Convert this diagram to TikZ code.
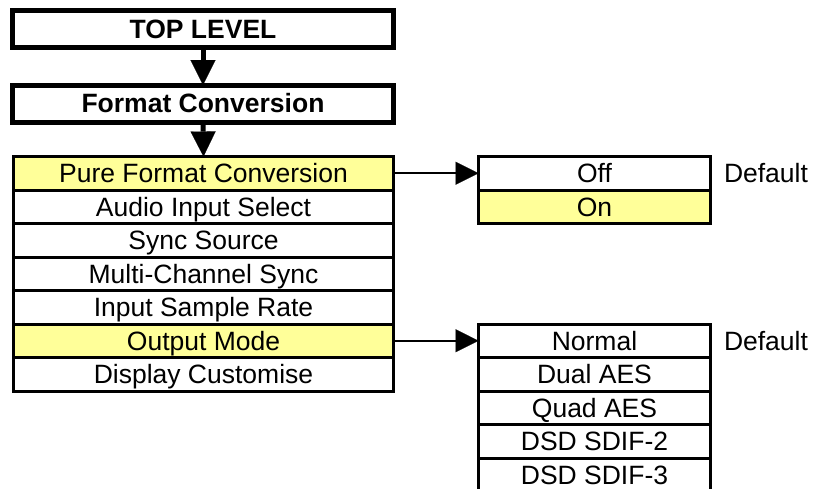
\documentclass[tikz,border=0pt]{standalone}
\usepackage{fontspec}
\setmainfont{Liberation Sans}
\usetikzlibrary{arrows.meta}
\definecolor{hiyel}{RGB}{255,255,153}
\tikzset{
  base/.style={rectangle, inner sep=0pt, outer sep=0pt, text height=18.9pt, text depth=0pt,
    font=\fontsize{26.5}{30}\selectfont},
  headbox/.style={base, draw, line width=5pt, minimum width=381pt, minimum height=37pt, font=\fontsize{26.5}{30}\selectfont\bfseries},
  row/.style={base, draw, line width=3pt, fill=white, minimum width=380pt, minimum height=33.5pt},
  hirow/.style={row, fill=hiyel},
  opt/.style={base, draw, line width=3pt, fill=white, minimum width=232pt, minimum height=33.5pt},
  hiopt/.style={opt, fill=hiyel},
  note/.style={base, anchor=west},
  downarrow/.style={line width=5pt, -{Triangle[width=25pt,length=25pt,line width=0.1pt]}},
  sidearrow/.style={line width=2pt, -{Triangle[width=23pt,length=23pt,line width=0.1pt]}}
}
\begin{document}
\begin{tikzpicture}[x=1pt,y=-1pt]
\useasboundingbox (0,0) rectangle (813,488);
\clip (0,0) rectangle (813,488);
\node[headbox] (top) at (203,29) {TOP LEVEL};
\node[headbox] (fc) at (203,103.5) {Format Conversion};
\node[hirow] (r1) at (203.5,173.25) {Pure Format Conversion};
\node[row] (r2) at (203.5,206.75) {Audio Input Select};
\node[row] (r3) at (203.5,240.25) {Sync Source};
\node[row] (r4) at (203.5,273.75) {Multi-Channel Sync};
\node[row] (r5) at (203.5,307.25) {Input Sample Rate};
\node[hirow] (r6) at (203.5,340.75) {Output Mode};
\node[row] (r7) at (203.5,374.25) {Display Customise};
\node[opt] (off) at (594.5,173.25) {Off};
\node[hiopt] (on) at (594.5,206.75) {On};
\node[note] (d1) at (724,173.25) {Default};
\node[opt] (o1) at (594.5,340.75) {Normal};
\node[opt] (o2) at (594.5,374.25) {Dual AES};
\node[opt] (o3) at (594.5,407.75) {Quad AES};
\node[opt] (o4) at (594.5,441.25) {DSD SDIF-2};
\node[opt] (o5) at (594.5,474.75) {DSD SDIF-3};
\node[note] (d2) at (724,340.75) {Default};
\draw[downarrow] (top.south) -- (fc.north);
\draw[downarrow] (fc.south) -- (r1.north);
\draw[sidearrow] (r1.east) -- (off.west);
\draw[sidearrow] (r6.east) -- (o1.west);
\end{tikzpicture}
\end{document}
